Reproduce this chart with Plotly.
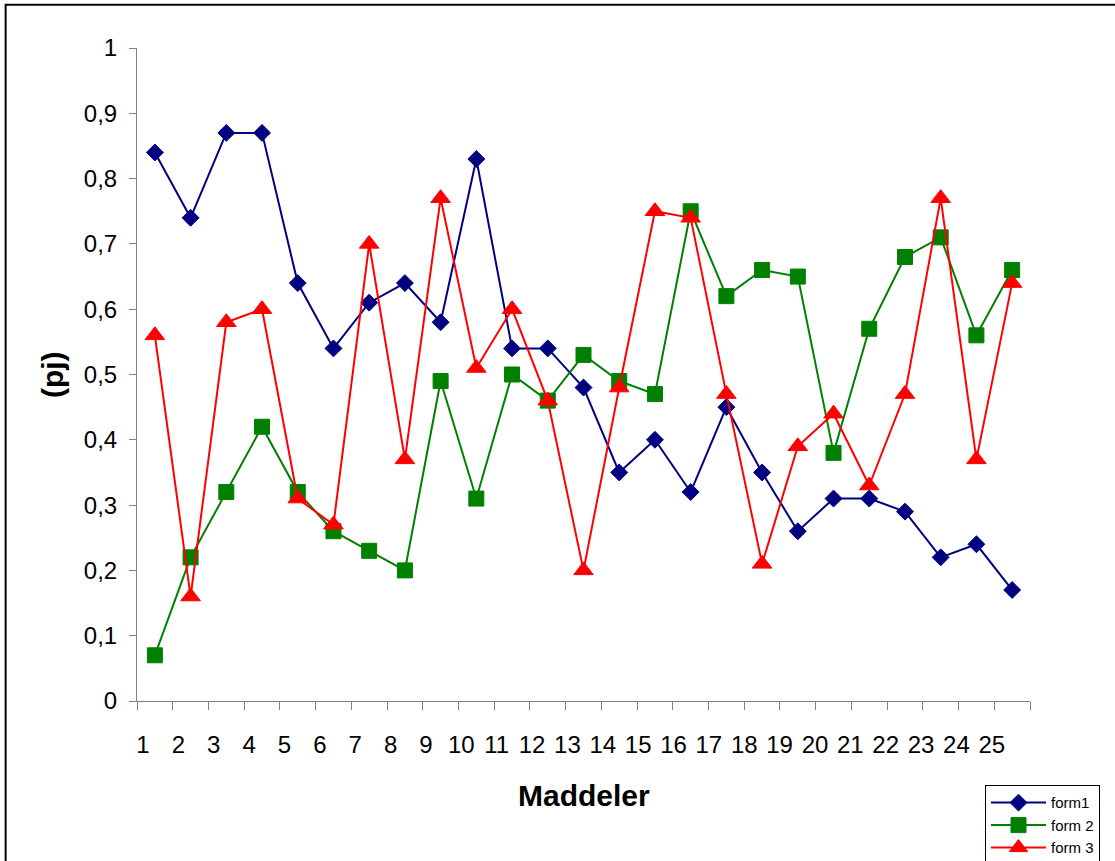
import plotly.graph_objects as go

# Item numbers (Maddeler) and item difficulty p_j for the three test forms
items = list(range(1, 26))
item_labels = [str(i) for i in items]

form1 = [0.84, 0.74, 0.87, 0.87, 0.64, 0.54, 0.61, 0.64, 0.58, 0.83,
         0.54, 0.54, 0.48, 0.35, 0.40, 0.32, 0.45, 0.35, 0.26, 0.31,
         0.31, 0.29, 0.22, 0.24, 0.17]
form2 = [0.07, 0.22, 0.32, 0.42, 0.32, 0.26, 0.23, 0.20, 0.49, 0.31,
         0.50, 0.46, 0.53, 0.49, 0.47, 0.75, 0.62, 0.66, 0.65, 0.38,
         0.57, 0.68, 0.71, 0.56, 0.66]
form3 = [0.56, 0.16, 0.58, 0.60, 0.31, 0.27, 0.70, 0.37, 0.77, 0.51,
         0.60, 0.46, 0.20, 0.48, 0.75, 0.74, 0.47, 0.21, 0.39, 0.44,
         0.33, 0.47, 0.77, 0.37, 0.64]

y_ticks = [0, 0.1, 0.2, 0.3, 0.4, 0.5, 0.6, 0.7, 0.8, 0.9, 1]

FONT = "Liberation Sans, Arial, sans-serif"
AXIS_GREY = "#808080"

series = [
    ("form1", form1, "#000080", dict(symbol="diamond", size=13)),
    ("form 2", form2, "#008000", dict(symbol="square", size=15)),
    ("form 3", form3, "#FF0000", dict(symbol="triangle-up", size=17)),
]

fig = go.Figure()
for name, vals, color, mk in series:
    fig.add_trace(go.Scatter(
        x=items, y=vals, name=name, mode="lines+markers",
        line=dict(color=color, width=2),
        marker=dict(color=color, line=dict(color=color, width=1), **mk),
    ))

# Invisible trace carrying the category labels on a secondary x axis
fig.add_trace(go.Scatter(
    x=items, y=[None] * len(items), xaxis="x2", showlegend=False,
    hoverinfo="skip", mode="lines",
))

fig.update_layout(
    width=1115, height=861,
    paper_bgcolor="white", plot_bgcolor="white",
    separators=", ",
    font=dict(family=FONT, color="black"),
    margin=dict(l=137, r=85, t=48, b=160, autoexpand=False),
    xaxis=dict(
        range=[0.5, 25.5],
        tickvals=[i - 0.5 for i in items] + [items[-1] + 0.5],
        showticklabels=False,
        ticks="outside", ticklen=8, tickwidth=1, tickcolor=AXIS_GREY,
        showline=True, linecolor=AXIS_GREY, linewidth=1,
        showgrid=False, zeroline=False,
    ),
    xaxis2=dict(
        overlaying="x", anchor="y", side="bottom",
        range=[0.830, 26.08],
        tickvals=items, ticktext=item_labels,
        ticks="", showline=False, showgrid=False, zeroline=False,
        tickfont=dict(family=FONT, size=24, color="black"),
        ticklabelstandoff=27,
    ),
    yaxis=dict(
        range=[0, 1],
        tickvals=y_ticks,
        tickformat=".1~f",
        ticks="outside", ticklen=7, tickwidth=1, tickcolor=AXIS_GREY,
        showline=True, linecolor=AXIS_GREY, linewidth=1,
        showgrid=False, zeroline=False,
        tickfont=dict(family=FONT, size=24, color="black"),
        ticklabelstandoff=7,
    ),
    legend=dict(
        x=0.9496, y=-0.1292, xanchor="left", yanchor="top",
        bordercolor="black", borderwidth=1, bgcolor="white",
        font=dict(family=FONT, size=15, color="black"),
        itemwidth=55, tracegroupgap=0,
    ),
    showlegend=True,
    annotations=[
        dict(text="<b>Maddeler</b>", xref="paper", yref="paper",
             x=0.5, y=-0.1445, xanchor="center", yanchor="middle",
             showarrow=False, font=dict(family=FONT, size=30)),
        dict(text="<b>(pj)</b>", xref="paper", yref="paper",
             x=-0.0945, y=0.5, xanchor="center", yanchor="middle",
             textangle=-90, showarrow=False, font=dict(family=FONT, size=30)),
    ],
    shapes=[
        dict(type="rect", xref="paper", yref="paper",
             x0=-0.1471, x1=1.1064, y0=-0.2595, y1=1.0664,
             line=dict(color="black", width=2), fillcolor="rgba(0,0,0,0)",
             layer="below"),
    ],
)

fig.write_html("out.html")
